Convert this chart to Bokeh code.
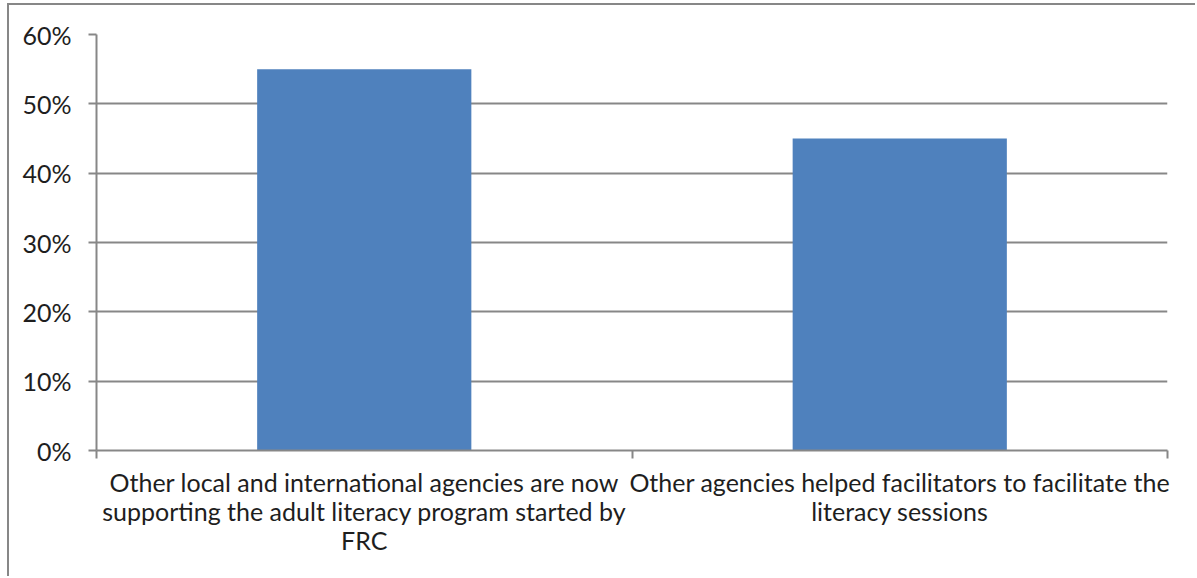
from bokeh.plotting import figure
from bokeh.models import Range1d, LinearAxis, FixedTicker, NumeralTickFormatter, ColumnDataSource
from bokeh.embed import file_html
from bokeh.resources import INLINE

categories = [
    "Other local and international agencies are now supporting the adult literacy program started by FRC",
    "Other agencies helped facilitators to facilitate the literacy sessions",
]
category_labels = [
    "Other local and international agencies are now\nsupporting the adult literacy program started by\nFRC",
    "Other agencies helped facilitators to facilitate the\nliteracy sessions",
]
values = [0.55, 0.45]
y_ticks = [0.0, 0.1, 0.2, 0.3, 0.4, 0.5, 0.6]

FONT = "Lato"
GRAY = "#878787"
TEXT = "#1e1e1e"
BAR = "#4F81BD"
FS = "25px"

n = len(categories)
centers = [i + 0.5 for i in range(n)]
src = ColumnDataSource(dict(x=centers, top=values, cat=categories))

p = figure(width=1188, height=573, output_backend="svg", toolbar_location=None,
           x_range=Range1d(0, n), y_range=Range1d(0, max(y_ticks)),
           x_axis_location=None, y_axis_location=None,
           min_border_left=87, min_border_right=30, min_border_top=29, min_border_bottom=128,
           styles={"border-top": f"2px solid {GRAY}", "border-left": f"2px solid {GRAY}",
                   "margin-top": "3px", "margin-left": "7px"})
p.outline_line_color = None
p.background_fill_color = "white"
p.border_fill_color = "white"

p.vbar(x="x", top="top", width=0.4, bottom=0, source=src, fill_color=BAR, line_color=None)

yax = LinearAxis(ticker=FixedTicker(ticks=y_ticks, minor_ticks=[]),
                 formatter=NumeralTickFormatter(format="0%"))
yax.axis_line_color = GRAY
yax.axis_line_width = 2
yax.major_tick_line_color = GRAY
yax.major_tick_line_width = 2
yax.major_tick_out = 8
yax.major_tick_in = 0
yax.minor_tick_line_color = None
yax.major_label_standoff = 17
yax.major_label_text_font = FONT
yax.major_label_text_font_size = FS
yax.major_label_text_color = TEXT
p.add_layout(yax, "left")

xax = LinearAxis(ticker=FixedTicker(ticks=centers, minor_ticks=list(range(n + 1))))
xax.major_label_overrides = {c: lab for c, lab in zip(centers, category_labels)}
xax.axis_line_color = GRAY
xax.axis_line_width = 2
xax.major_tick_line_color = None
xax.major_tick_out = 0
xax.major_tick_in = 0
xax.minor_tick_line_color = GRAY
xax.minor_tick_line_width = 2
xax.minor_tick_out = 8
xax.minor_tick_in = 0
xax.major_label_standoff = 8
xax.major_label_text_font = FONT
xax.major_label_text_font_size = FS
xax.major_label_text_line_height = 0.97
xax.major_label_text_color = TEXT
p.add_layout(xax, "below")

p.ygrid.ticker = FixedTicker(ticks=y_ticks)
p.ygrid.grid_line_color = GRAY
p.ygrid.grid_line_width = 2
p.xgrid.grid_line_color = None

open("out.html", "w").write(file_html(p, INLINE))
